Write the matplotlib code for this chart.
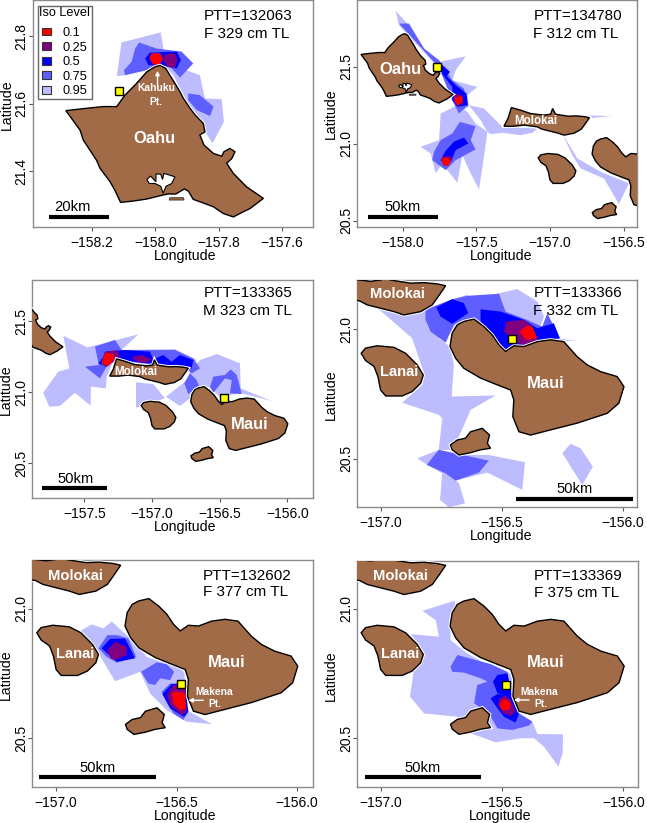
# -*- coding: utf-8 -*-
# Iso-level home ranges for six PTT tags around the Hawaiian islands
import matplotlib
matplotlib.use('Agg')
import matplotlib.pyplot as plt
from matplotlib.patches import Polygon, Patch

plt.rcParams['font.family'] = ['Liberation Sans', 'DejaVu Sans']

# islands (lon, lat)
oahu = [(-157.985,21.713),(-157.967,21.704),(-157.954,21.684),(-157.938,21.660),(-157.922,21.635),(-157.911,21.615),
        (-157.890,21.586),(-157.874,21.566),(-157.848,21.541),(-157.843,21.516),(-157.859,21.507),(-157.846,21.477),
        (-157.816,21.452),(-157.790,21.444),(-157.783,21.457),(-157.764,21.467),(-157.748,21.457),(-157.758,21.437),
        (-157.774,21.423),(-157.753,21.393),(-157.711,21.353),(-157.658,21.319),(-157.679,21.304),(-157.700,21.289),
        (-157.722,21.279),(-157.753,21.264),(-157.785,21.274),(-157.816,21.294),(-157.859,21.309),(-157.880,21.316),
        (-157.895,21.340),(-157.908,21.347),(-157.935,21.332),(-157.960,21.332),(-157.975,21.329),(-158.027,21.317),
        (-158.070,21.311),(-158.110,21.307),(-158.128,21.343),(-158.143,21.368),(-158.175,21.408),(-158.186,21.432),
        (-158.228,21.492),(-158.238,21.521),(-158.265,21.556),(-158.283,21.579),(-158.217,21.586),(-158.165,21.591),
        (-158.122,21.591),(-158.096,21.625),(-158.059,21.660),(-158.027,21.694),(-158.001,21.709)]
ford = [(-157.954,21.321),(-157.911,21.321),(-157.909,21.314),(-157.956,21.314)]
pearl = [(-158.027,21.375),(-158.015,21.385),(-157.998,21.368),(-157.998,21.391),(-157.983,21.391),(-157.977,21.375),
         (-157.973,21.393),(-157.938,21.383),(-157.948,21.363),(-157.966,21.355),(-157.975,21.334),(-157.983,21.355),
         (-158.001,21.363),(-158.019,21.363)]
molokai = [(-157.312,21.113),(-157.285,21.163),(-157.262,21.234),(-157.199,21.217),(-157.131,21.195),(-157.041,21.185),
           (-156.995,21.191),(-156.982,21.228),(-156.962,21.191),(-156.938,21.187),(-156.876,21.178),(-156.821,21.180),
           (-156.766,21.175),(-156.732,21.168),(-156.753,21.139),(-156.787,21.094),(-156.835,21.068),(-156.904,21.055),
           (-156.945,21.068),(-157.000,21.081),(-157.055,21.094),(-157.086,21.109),(-157.176,21.120),(-157.244,21.113)]
lanai = [(-157.080,20.907),(-157.062,20.927),(-157.014,20.936),(-156.945,20.930),(-156.897,20.907),(-156.849,20.862),
         (-156.824,20.823),(-156.835,20.791),(-156.870,20.759),(-156.911,20.742),(-156.979,20.742),(-157.000,20.765),
         (-157.011,20.817),(-157.027,20.856),(-157.062,20.879)]
kahoolawe = [(-156.712,20.553),(-156.684,20.572),(-156.650,20.579),(-156.629,20.604),(-156.581,20.617),(-156.551,20.591),
             (-156.560,20.559),(-156.547,20.540),(-156.588,20.534),(-156.629,20.523),(-156.677,20.514),(-156.705,20.534)]
maui = [(-156.684,21.017),(-156.705,20.985),(-156.714,20.933),(-156.691,20.888),(-156.657,20.849),(-156.588,20.811),
        (-156.519,20.785),(-156.464,20.765),(-156.451,20.727),(-156.455,20.662),(-156.430,20.604),(-156.382,20.591),
        (-156.299,20.611),(-156.190,20.637),(-156.066,20.675),(-156.018,20.714),(-155.997,20.778),(-156.025,20.817),
        (-156.093,20.836),(-156.148,20.862),(-156.190,20.894),(-156.245,20.952),(-156.299,20.959),(-156.354,20.952),
        (-156.409,20.933),(-156.451,20.936),(-156.485,20.914),(-156.512,20.939),(-156.540,20.978),(-156.574,21.010),
        (-156.615,21.039),(-156.657,21.030)]

# PTT 132063
a_95 = [[(-158.107,21.781),(-157.983,21.811),(-157.973,21.758),(-157.880,21.719),(-157.917,21.704),(-157.859,21.684),
         (-157.843,21.615),(-157.790,21.613),(-157.783,21.546),(-157.819,21.482),(-157.848,21.526),(-157.880,21.571),
         (-157.896,21.600),(-157.922,21.645),(-157.943,21.684),(-157.975,21.714),(-158.027,21.699),(-158.096,21.684),
         (-158.122,21.681)]]
a_75 = [[(-158.051,21.781),(-157.996,21.763),(-157.917,21.754),(-157.880,21.719),(-157.922,21.677),(-157.948,21.704),
         (-157.975,21.714),(-158.027,21.699),(-158.096,21.684),(-158.099,21.699),(-158.075,21.724),(-158.064,21.763)],
        [(-157.896,21.630),(-157.859,21.625),(-157.816,21.591),(-157.827,21.563),(-157.869,21.581),(-157.896,21.610)]]
a_50 = [[(-158.017,21.751),(-157.932,21.754),(-157.919,21.729),(-157.932,21.704),(-157.975,21.712),(-158.022,21.714),
         (-158.032,21.734)]]
a_25 = [[(-157.969,21.746),(-157.938,21.749),(-157.930,21.729),(-157.938,21.706),(-157.964,21.711),(-157.975,21.729)]]
a_10 = [[(-158.012,21.749),(-157.985,21.749),(-157.975,21.734),(-157.987,21.714),(-158.008,21.716),(-158.019,21.734)]]

# PTT 134780
b_95 = [[(-158.048,21.861),(-157.968,21.779),(-157.855,21.617),(-157.753,21.530),(-157.572,21.567),(-157.640,21.476),
         (-157.663,21.411),(-157.493,21.368),(-157.561,21.314),(-157.550,21.243),(-157.618,21.195),(-157.663,21.282),
         (-157.708,21.411),(-157.776,21.509),(-157.878,21.617),(-158.025,21.768)],
        [(-157.629,21.249),(-157.561,21.206),(-157.505,21.131),(-157.425,21.077),(-157.448,20.915),(-157.482,20.703),
         (-157.538,20.807),(-157.595,20.925),(-157.629,20.746),(-157.731,20.871),(-157.776,20.807),(-157.810,20.936),
         (-157.878,20.979),(-157.753,21.023),(-157.742,21.195)],
        [(-157.550,21.249),(-157.448,21.228),(-157.324,21.109),(-157.086,21.098),(-157.120,21.070),(-157.199,21.055),
         (-157.324,21.070),(-157.403,21.062),(-157.425,21.077),(-157.471,21.152)],
        [(-156.905,21.185),(-156.584,21.180),(-156.747,21.163)],
        [(-156.916,21.066),(-156.814,20.904),(-156.656,20.817),(-156.464,20.742),(-156.532,20.608),(-156.633,20.774),
         (-156.792,20.839),(-156.848,20.925)]]
b_75 = [[(-158.025,21.779),(-157.957,21.779),(-157.855,21.617),(-157.753,21.541),(-157.663,21.411),(-157.584,21.357),
         (-157.557,21.249),(-157.618,21.195),(-157.663,21.282),(-157.742,21.465),(-157.776,21.519),(-157.878,21.627)],
        [(-157.611,21.141),(-157.505,21.113),(-157.538,21.023),(-157.505,20.962),(-157.640,20.893),(-157.663,20.871),
         (-157.708,20.828),(-157.799,20.893),(-157.787,20.947),(-157.742,21.023),(-157.663,21.066)]]
b_50 = [[(-157.753,21.530),(-157.708,21.491),(-157.679,21.465),(-157.701,21.437),(-157.640,21.379),(-157.566,21.325),
         (-157.557,21.249),(-157.629,21.239),(-157.663,21.282),(-157.663,21.368),(-157.742,21.465)],
        [(-157.584,21.040),(-157.554,21.001),(-157.640,20.958),(-157.663,20.904),(-157.708,20.856),(-157.742,20.893),
         (-157.708,20.954),(-157.652,21.012)]]
b_25 = [[(-157.652,21.325),(-157.595,21.314),(-157.588,21.260),(-157.629,21.243),(-157.652,21.282)],
        [(-157.731,20.915),(-157.674,20.919),(-157.663,20.897),(-157.692,20.856),(-157.724,20.860)]]
b_10 = [[(-157.647,21.299),(-157.597,21.308),(-157.593,21.271),(-157.624,21.249),(-157.647,21.271)],
        [(-157.735,20.908),(-157.692,20.910),(-157.674,20.887),(-157.692,20.856),(-157.724,20.860),(-157.735,20.887)]]

# PTT 133365
c_95 = [[(-157.655,21.397),(-157.478,21.315),(-157.310,21.355),(-157.101,21.406),(-157.212,21.308),(-157.273,21.245),
         (-157.335,21.109),(-157.340,21.027),(-157.451,21.039),(-157.453,20.905),(-157.569,20.996),(-157.680,20.903),
         (-157.759,20.898),(-157.803,20.996),(-157.692,21.144),(-157.611,21.167)],
        [(-157.273,21.296),(-156.830,21.303),(-156.670,21.226),(-156.744,21.156),(-157.286,21.226)],
        [(-156.645,21.226),(-156.522,21.268),(-156.350,21.203),(-156.345,21.027),(-156.116,20.938),(-156.337,20.992),
         (-156.424,20.980),(-156.498,20.968),(-156.584,21.039),(-156.658,21.039),(-156.719,20.957),(-156.793,20.903),
         (-156.897,20.968),(-156.756,21.074),(-156.695,21.179)],
        [(-157.118,21.069),(-156.990,21.057),(-156.904,20.957),(-157.118,20.891)]]
c_75 = [[(-157.421,21.320),(-157.273,21.367),(-157.224,21.296),(-156.830,21.296),(-156.695,21.238),(-156.645,21.167),
         (-156.707,21.132),(-156.781,21.191),(-156.941,21.191),(-157.286,21.226),(-157.335,21.179),(-157.384,21.097),
         (-157.495,21.179),(-157.392,21.191)],
        [(-156.719,21.132),(-156.670,21.085),(-156.653,21.043),(-156.732,20.987),(-156.761,21.062)],
        [(-156.571,21.039),(-156.547,21.109),(-156.461,21.121),(-156.419,21.160),(-156.374,21.121),(-156.337,20.987),
         (-156.424,20.992),(-156.411,21.085),(-156.461,21.097),(-156.510,21.039),(-156.547,20.996)]]
c_50 = [[(-157.347,21.285),(-157.200,21.296),(-157.015,21.285),(-156.990,21.231),(-156.916,21.261),(-156.855,21.214),
         (-156.793,21.261),(-156.695,21.226),(-156.707,21.167),(-156.818,21.184),(-156.941,21.191),(-157.273,21.231),
         (-157.335,21.179),(-157.397,21.203),(-157.360,21.245)]]
c_25 = [[(-157.340,21.285),(-157.261,21.296),(-157.236,21.254),(-157.273,21.221),(-157.335,21.179),(-157.372,21.203)],
        [(-157.150,21.245),(-157.076,21.261),(-157.002,21.231),(-157.039,21.207),(-157.113,21.214)]]
c_10 = [[(-157.347,21.278),(-157.286,21.268),(-157.281,21.231),(-157.323,21.184),(-157.372,21.198),(-157.360,21.245)]]

# PTT 133366
d_95 = [[(-157.021,21.088),(-156.904,21.055),(-156.815,21.077),(-156.808,21.017),(-156.760,20.965),(-156.714,20.933),
         (-156.698,20.862),(-156.707,20.740),(-156.526,20.744),(-156.629,20.688),(-156.677,20.585),(-156.712,20.534),
         (-156.760,20.534),(-156.746,20.656),(-156.760,20.669),(-156.911,20.716),(-156.828,20.785),(-156.821,20.830),
         (-156.870,20.965)],
        [(-156.815,21.077),(-156.643,21.133),(-156.622,21.113),(-156.512,21.139),(-156.437,21.155),(-156.354,21.107),
         (-156.327,21.049),(-156.341,21.010),(-156.272,20.965),(-156.190,20.955),(-156.354,20.959),(-156.464,20.920),
         (-156.547,20.972),(-156.657,21.036),(-156.712,20.985),(-156.766,20.965)],
        [(-156.849,20.501),(-156.760,20.534),(-156.684,20.514),(-156.554,20.514),(-156.405,20.486),(-156.416,20.379),
         (-156.560,20.446),(-156.691,20.415),(-156.677,20.405),(-156.652,20.327),(-156.718,20.312),(-156.755,20.340),
         (-156.746,20.443),(-156.808,20.476)],
        [(-156.217,20.557),(-156.176,20.540),(-156.125,20.469),(-156.169,20.398),(-156.251,20.521)]]
d_75 = [[(-156.815,21.075),(-156.705,21.116),(-156.643,21.129),(-156.512,21.137),(-156.485,21.068),(-156.396,21.036),
         (-156.334,21.010),(-156.313,21.062),(-156.261,20.965),(-156.354,20.952),(-156.464,20.914),(-156.547,20.965),
         (-156.657,21.036),(-156.698,21.017),(-156.732,20.948),(-156.794,20.991),(-156.815,21.036)],
        [(-156.810,20.476),(-156.760,20.534),(-156.554,20.492),(-156.595,20.446),(-156.691,20.415),(-156.732,20.443)]]
d_50 = [[(-156.771,21.085),(-156.705,21.116),(-156.657,21.101),(-156.639,21.062),(-156.705,21.021),(-156.753,21.049)],
        [(-156.588,21.077),(-156.505,21.068),(-156.409,21.036),(-156.354,21.004),(-156.286,21.023),(-156.261,20.965),
         (-156.354,20.952),(-156.464,20.914),(-156.505,20.923),(-156.547,20.965),(-156.588,21.030)]]
d_25 = [[(-156.481,21.030),(-156.409,21.036),(-156.375,21.010),(-156.354,20.959),(-156.402,20.936),(-156.451,20.952),
         (-156.492,20.991)]]
d_10 = [[(-156.396,21.014),(-156.375,21.010),(-156.354,20.965),(-156.402,20.959),(-156.427,20.991)]]

# PTT 132602
e_95 = [[(-156.898,20.915),(-156.852,20.939),(-156.804,20.924),(-156.769,20.950),(-156.700,20.892),(-156.624,20.814),
         (-156.568,20.795),(-156.499,20.795),(-156.467,20.750),(-156.458,20.608),(-156.354,20.554),(-156.458,20.563),
         (-156.541,20.608),(-156.610,20.673),(-156.651,20.756),(-156.755,20.720),(-156.824,20.827)]]
e_75 = [[(-156.824,20.847),(-156.787,20.898),(-156.748,20.898),(-156.700,20.885),(-156.668,20.814),(-156.748,20.791),
         (-156.790,20.814)],
        [(-156.647,20.756),(-156.582,20.793),(-156.541,20.785),(-156.510,20.756),(-156.527,20.724),(-156.568,20.731),
         (-156.589,20.705),(-156.617,20.711)],
        [(-156.562,20.679),(-156.527,20.711),(-156.465,20.711),(-156.455,20.595),(-156.472,20.570),(-156.513,20.595)]]
e_50 = [[(-156.811,20.847),(-156.776,20.883),(-156.714,20.885),(-156.672,20.808),(-156.748,20.795)],
        [(-156.559,20.670),(-156.520,20.709),(-156.465,20.709),(-156.451,20.602),(-156.469,20.582),(-156.527,20.615)]]
e_25 = [[(-156.787,20.840),(-156.755,20.872),(-156.707,20.853),(-156.707,20.821),(-156.755,20.802),(-156.773,20.808)],
        [(-156.541,20.666),(-156.513,20.705),(-156.465,20.705),(-156.458,20.602),(-156.479,20.589),(-156.527,20.628)]]
e_10 = [[(-156.520,20.677),(-156.467,20.677),(-156.461,20.615),(-156.485,20.608),(-156.513,20.634)]]

# PTT 133369
f_95 = [[(-156.828,20.992),(-156.695,21.031),(-156.691,21.008),(-156.712,20.930),(-156.712,20.879),(-156.643,20.827),
         (-156.547,20.776),(-156.464,20.750),(-156.430,20.595),(-156.375,20.563),(-156.354,20.515),(-156.249,20.514),
         (-156.250,20.441),(-156.268,20.389),(-156.327,20.466),(-156.368,20.499),(-156.423,20.499),(-156.526,20.483),
         (-156.629,20.518),(-156.684,20.582),(-156.821,20.595),(-156.879,20.660),(-156.863,20.763),(-156.835,20.853),
         (-156.876,20.902),(-156.760,20.892),(-156.773,20.956)]]
f_75 = [[(-156.712,20.776),(-156.684,20.821),(-156.547,20.786),(-156.478,20.756),(-156.457,20.647),(-156.430,20.595),
         (-156.375,20.563),(-156.389,20.548),(-156.457,20.531),(-156.519,20.537),(-156.554,20.595),(-156.615,20.634),
         (-156.602,20.705),(-156.560,20.718),(-156.588,20.731),(-156.657,20.753),(-156.705,20.756)]]
f_50 = [[(-156.537,20.718),(-156.519,20.744),(-156.478,20.750),(-156.457,20.660),(-156.519,20.673)],
        [(-156.547,20.653),(-156.519,20.670),(-156.464,20.666),(-156.451,20.634),(-156.430,20.595),(-156.444,20.559),
         (-156.492,20.582),(-156.519,20.615)]]
f_25 = [[(-156.512,20.653),(-156.485,20.664),(-156.464,20.647),(-156.444,20.602),(-156.464,20.585),(-156.499,20.598),
         (-156.516,20.628)]]
f_10 = [[(-156.499,20.647),(-156.475,20.647),(-156.462,20.628),(-156.475,20.608),(-156.499,20.608),(-156.510,20.628)]]

iso_levels = ['0.1', '0.25', '0.5', '0.75', '0.95']
iso_colors = ['#FF0000', '#800080', '#0000FF', '#5F5FFF', '#BCBCFF']
land_color = '#A16B47'

W, H = 647, 823
fig = plt.figure(figsize=(W/100, H/100), dpi=100)

# pixel box, limits, ticks, iso sets, tag, scale bar, deployment point, label spots
panels = [
    dict(box=(32.7,312.7,0.3,226.7), xlim=(-158.388,-157.502), ylim=(21.235,21.906),
         xticks=[-158.2,-158.0,-157.8,-157.6], yticks=[21.4,21.6,21.8],
         iso=[a_95,a_75,a_50,a_25,a_10], ptt='PTT=132063', who='F 329 cm TL', tx=.61, ty=(.93,.853),
         bar=(-158.335,-158.147,21.265), bar_txt='20km', bar_lab=(-158.262,21.292), tag=(-158.115,21.636),
         xl=.545, yl=.537,
         names=[('Oahu',-158.003,21.497,11.9)]),
    dict(box=(357.3,637.3,0.3,226.7), xlim=(-158.308,-156.407), ylim=(20.461,21.93),
         xticks=[-158.0,-157.5,-157.0,-156.5], yticks=[20.5,21.0,21.5],
         iso=[b_95,b_75,b_50,b_25,b_10], ptt='PTT=134780', who='F 312 cm TL', tx=.629, ty=(.93,.853),
         bar=(-158.235,-157.760,20.526), bar_txt='50km', bar_lab=(-157.998,20.586), tag=(-157.767,21.494),
         xl=.512, yl=.5,
         names=[('Oahu',-158.018,21.481,11.9),('Molokai',-157.097,21.148,8.3)]),
    dict(box=(32.3,312.7,280,497.7), xlim=(-157.884,-155.813), ylim=(20.259,21.788),
         xticks=[-157.5,-157.0,-156.5,-156.0], yticks=[20.5,21.0,21.5],
         iso=[c_95,c_75,c_50,c_25,c_10], ptt='PTT=133365', who='M 323 cm TL', tx=.61, ty=(.939,.858),
         bar=(-157.810,-157.333,20.324), bar_txt='50km', bar_lab=(-157.566,20.388), tag=(-156.468,20.957),
         xl=.546, yl=.495,
         names=[('Molokai',-157.118,21.144,8.3),('Maui',-156.276,20.774,11.9)]),
    dict(box=(357.3,637.3,280.3,507), xlim=(-157.096,-155.942), ylim=(20.313,21.189),
         xticks=[-157.0,-156.5,-156.0], yticks=[20.5,21.0],
         iso=[d_95,d_75,d_50,d_25,d_10], ptt='PTT=133366', who='F 332 cm TL', tx=.629, ty=(.943,.865),
         bar=(-156.440,-155.959,20.345), bar_txt='50km', bar_lab=(-156.201,20.381), tag=(-156.460,20.961),
         xl=.512, yl=.494,
         names=[('Molokai',-156.929,21.137,10.6),('Lanai',-156.922,20.836,10.6),('Maui',-156.320,20.789,11.9)]),
    dict(box=(32,312.7,560.3,787), xlim=(-157.100,-155.935), ylim=(20.311,21.187),
         xticks=[-157.0,-156.5,-156.0], yticks=[20.5,21.0],
         iso=[e_95,e_75,e_50,e_25,e_10], ptt='PTT=132602', who='F 377 cm TL', tx=.61, ty=(.931,.859),
         bar=(-157.071,-156.585,20.349), bar_txt='50km', bar_lab=(-156.828,20.383), tag=(-156.481,20.709),
         xl=.546, yl=.494,
         names=[('Molokai',-156.921,21.128,10.6),('Lanai',-156.921,20.825,10.6),('Maui',-156.292,20.791,11.9)]),
    dict(box=(357.3,638,560.7,787.3), xlim=(-157.096,-155.940), ylim=(20.309,21.186),
         xticks=[-157.0,-156.5,-156.0], yticks=[20.5,21.0],
         iso=[f_95,f_75,f_50,f_25,f_10], ptt='PTT=133369', who='F 375 cm TL', tx=.629, ty=(.931,.859),
         bar=(-157.066,-156.585,20.349), bar_txt='50km', bar_lab=(-156.826,20.383), tag=(-156.482,20.705),
         xl=.51, yl=.494,
         names=[('Molokai',-156.918,21.128,10.6),('Lanai',-156.918,20.825,10.6),('Maui',-156.320,20.791,11.9)]),
]

axes = []
for p in panels:
    l, r, t, b = p['box']
    ax = fig.add_axes([l/W, 1-b/H, (r-l)/W, (b-t)/H])
    axes.append(ax)
    ax.set_xlim(p['xlim'])
    ax.set_ylim(p['ylim'])

    # largest contour first, smallest on top
    for polys, col in zip(p['iso'], iso_colors[::-1]):
        for poly in polys:
            ax.add_patch(Polygon(poly, closed=True, facecolor=col, edgecolor='none', zorder=2))

    # land hides the contours, white halo like the land mask in the original
    for isl in [oahu, molokai, lanai, kahoolawe, maui]:
        ax.add_patch(Polygon(isl, closed=True, facecolor='none', edgecolor='white', lw=2.4, zorder=3))
        ax.add_patch(Polygon(isl, closed=True, facecolor=land_color, edgecolor='black', lw=1.0, zorder=4))
    ax.add_patch(Polygon(ford, closed=True, facecolor=land_color, edgecolor='#333333', lw=0.6, zorder=4))
    ax.add_patch(Polygon(pearl, closed=True, facecolor='white', edgecolor='black', lw=0.8, zorder=5))

    ax.plot(p['tag'][0], p['tag'][1], 's', ms=6.2, mfc='#FFFF00', mec='black', mew=1.0, zorder=7)

    x0, x1, yb = p['bar']
    ax.plot([x0, x1], [yb, yb], color='black', lw=3, solid_capstyle='butt', zorder=7)
    ax.text(p['bar_lab'][0], p['bar_lab'][1], p['bar_txt'], fontsize=10.6, ha='center', va='center', zorder=7)

    ax.text(p['tx'], p['ty'][0], p['ptt'], transform=ax.transAxes, fontsize=11, va='center', zorder=8)
    ax.text(p['tx'], p['ty'][1], p['who'], transform=ax.transAxes, fontsize=11, va='center', zorder=8)
    for name, lon, lat, fs in p['names']:
        ax.text(lon, lat, name, color='white', fontweight='bold', fontsize=fs, ha='center', va='center', zorder=6)

    ax.set_xticks(p['xticks'])
    ax.set_xticklabels(['\u2212%.1f' % abs(v) for v in p['xticks']])
    ax.set_yticks(p['yticks'])
    ax.set_yticklabels(['%.1f' % v for v in p['yticks']], rotation=90, va='center')
    ax.tick_params(axis='x', length=3, width=0.8, pad=3.4, labelsize=10, color='#555555')
    ax.tick_params(axis='y', length=3, width=0.8, pad=0, labelsize=10, color='#555555')
    ax.set_xlabel('Longitude', fontsize=10.2)
    ax.set_ylabel('Latitude', fontsize=10.2)
    ax.xaxis.set_label_coords(p['xl'], -22/(b-t))
    ax.yaxis.set_label_coords(-19/(r-l), p['yl'])
    for s in ax.spines.values():
        s.set_color('#8C8C8C')
        s.set_linewidth(1.0)

# small site labels
ax = axes[0]
ax.text(-157.996, 21.645, 'Kahuku', color='white', fontweight='bold', fontsize=7.4, ha='center', va='center', zorder=6)
ax.text(-157.998, 21.605, 'Pt.', color='white', fontweight='bold', fontsize=7.4, ha='center', va='center', zorder=6)
ax.annotate('', xy=(-157.993, 21.697), xytext=(-157.993, 21.650), zorder=6,
            arrowprops=dict(arrowstyle='-|>', color='white', lw=1, mutation_scale=6, shrinkA=0, shrinkB=0))
for ax, tx1, ty1, tx2, ty2, ay in [(axes[4], -156.344, 20.678, -156.339, 20.630, 20.646),
                                   (axes[5], -156.346, 20.679, -156.341, 20.630, 20.647)]:
    ax.text(tx1, ty1, 'Makena', color='white', fontweight='bold', fontsize=7.4, ha='center', va='center', zorder=6)
    ax.text(tx2, ty2, 'Pt.', color='white', fontweight='bold', fontsize=7.4, ha='center', va='center', zorder=6)
    ax.annotate('', xy=(-156.451, ay), xytext=(-156.389, ay), zorder=6,
                arrowprops=dict(arrowstyle='-|>', color='white', lw=1, mutation_scale=6, shrinkA=0, shrinkB=0))

# legend in the first panel
handles = [Patch(facecolor=c, edgecolor='#333333', lw=0.8) for c in iso_colors]
leg = axes[0].legend(handles, iso_levels, title='Iso Level', loc='upper left', bbox_to_anchor=(.018, .975),
                     fontsize=9.2, title_fontsize=9.2, fancybox=False, framealpha=1, edgecolor='#666666',
                     handlelength=.72, handleheight=.55, labelspacing=.2, handletextpad=.85,
                     borderpad=.12, borderaxespad=0)
leg._legend_box.sep = 5.5  # more room under the title
leg.set_zorder(9)
leg.get_frame().set_linewidth(1.0)

fig.savefig('out.png', dpi=100)
